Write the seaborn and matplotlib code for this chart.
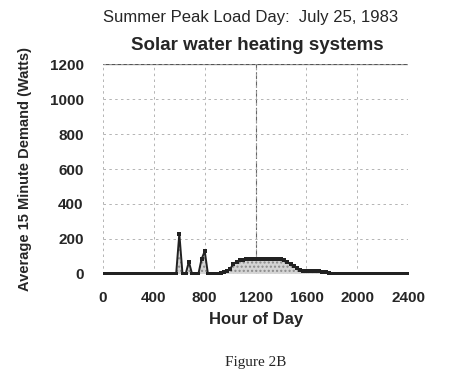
import numpy as np
import matplotlib
matplotlib.use("Agg")
import matplotlib.pyplot as plt
import seaborn as sns
import pandas as pd

# 15 minute readings, hour of day written as HHMM-style on a linear axis
hour_of_day = [i * 25 for i in range(97)]
demand_watts = (
    [0] * 23
    + [0, 230, 0, 0, 70, 0, 0, 0, 85, 130, 0, 0, 0]
    + [2, 5, 12, 15, 30, 55, 70, 78, 82, 84]
    + [85, 86, 86, 86, 86, 86, 86, 86, 85, 85, 84]
    + [78, 68, 55, 45, 35, 25, 18, 16]
    + [15, 15, 15, 14, 13, 8, 3, 2]
    + [1] * 24
)
x_ticks = [0, 400, 800, 1200, 1600, 2000, 2400]
y_ticks = [0, 200, 400, 600, 800, 1000, 1200]

df = pd.DataFrame({"hour": hour_of_day, "watts": demand_watts})

sns.set_style("white")
plt.rcParams["font.family"] = ["Liberation Sans", "DejaVu Sans"]

fig = plt.figure(figsize=(4.5, 3.82), dpi=100)
ax = fig.add_axes([0.229, 0.283, 0.678, 0.549])

ax.fill_between(df["hour"], df["watts"], 0, color="#d4d4d4", hatch="....",
                edgecolor="#8a8a8a", linewidth=0)
sns.lineplot(data=df, x="hour", y="watts", ax=ax, color="#222222",
             linewidth=1.4, marker="s", markersize=2.2, markeredgewidth=0)

ax.set_xlim(0, 2400)
ax.set_ylim(0, 1200)
ax.set_xticks(x_ticks)
ax.set_yticks(y_ticks)
ax.set_xticklabels([str(t) for t in x_ticks], fontsize=11, fontweight="bold")
ax.set_yticklabels([str(t) for t in y_ticks], fontsize=11, fontweight="bold")

ax.grid(True, linestyle=(0, (3, 4)), color="#a8a8a8", linewidth=0.6)
ax.axvline(1200, color="#666666", linewidth=0.8, linestyle=(0, (6, 2)), zorder=0.5)
ax.axhline(1200, color="#555555", linewidth=0.9, zorder=0.5)
for s in ax.spines.values():
    s.set_visible(False)
ax.tick_params(axis="y", length=3, width=0.6, color="#999999", pad=11)
ax.tick_params(axis="x", length=0, pad=12)

ax.set_xlabel("Hour of Day", fontsize=12, fontweight="bold", labelpad=5)
ax.set_ylabel("Average 15 Minute Demand (Watts)", fontsize=10.5,
              fontweight="bold", labelpad=13)

fig.text(0.556, 0.953, "Summer Peak Load Day:  July 25, 1983", ha="center",
         va="center", fontsize=12)
fig.text(0.571, 0.882, "Solar water heating systems", ha="center",
         va="center", fontsize=13.5, fontweight="bold")
fig.text(0.569, 0.05, "Figure 2B", ha="center", va="center", fontsize=11,
         family="Liberation Serif")

fig.savefig("out.png", dpi=100)
